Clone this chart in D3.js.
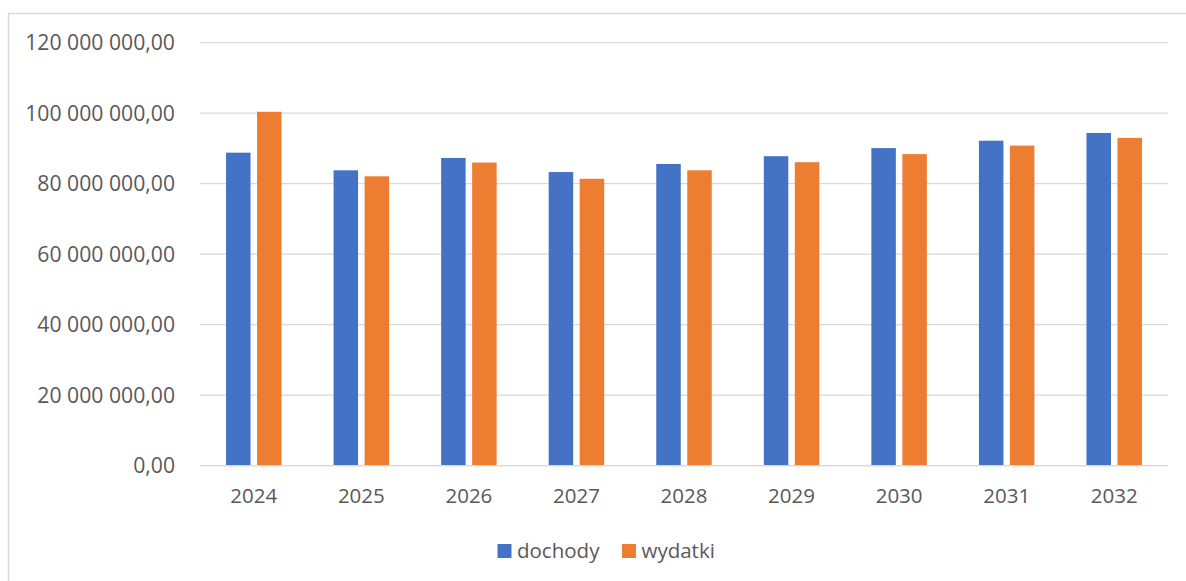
<!DOCTYPE html>
<html>
<head>
<meta charset="utf-8">
<script src="https://cdn.jsdelivr.net/npm/d3@7"></script>
<style>
    body { margin: 0; background: #fff; }
    svg text { font-family: "Open Sans", sans-serif; fill: #595959; }
</style>
</head>
<body>
<svg id="chart" width="1186" height="581"></svg>
<script>
// chart data
const years = ['2024', '2025', '2026', '2027', '2028', '2029', '2030', '2031', '2032'];
const series_names = ['dochody', 'wydatki'];
const dochody = [88.8e6, 83.8e6, 87.3e6, 83.3e6, 85.6e6, 87.8e6, 90.1e6, 92.2e6, 94.4e6];
const wydatki = [100.4e6, 82.1e6, 86.0e6, 81.4e6, 83.8e6, 86.1e6, 88.4e6, 90.8e6, 93.0e6];
const y_ticks = [0, 20e6, 40e6, 60e6, 80e6, 100e6, 120e6];
const colors = ['#4472C4', '#ED7D31'];

const svg = d3.select('#chart');

// outer chart border (right and bottom edges fall outside the picture)
svg.append('rect')
    .attr('x', 8.5).attr('y', 13.5)
    .attr('width', 1190).attr('height', 600)
    .attr('fill', 'none')
    .attr('stroke', '#D9D9D9')
    .attr('stroke-width', 1.5);

const plot_left = 200, plot_right = 1168, plot_top = 42.7, plot_bottom = 465.7;

const xScale = d3.scaleBand()
    .domain(years)
    .range([plot_left, plot_right]);

const yScale = d3.scaleLinear()
    .domain([0, 120e6])
    .range([plot_bottom, plot_top]);

// format like "120 000 000,00"
function fmt(v) {
    const s = Math.round(v).toString().replace(/\B(?=(\d{3})+(?!\d))/g, ' ');
    return s + ',00';
}

// grid lines
svg.append('g')
    .selectAll('line')
    .data(y_ticks)
    .enter()
    .append('line')
    .attr('x1', plot_left).attr('x2', plot_right)
    .attr('y1', (d) => yScale(d)).attr('y2', (d) => yScale(d))
    .attr('stroke', '#D9D9D9')
    .attr('stroke-width', 1.3);

// y labels
svg.append('g')
    .selectAll('text')
    .data(y_ticks)
    .enter()
    .append('text')
    .attr('x', 175)
    .attr('y', (d) => yScale(d) + 7.5)
    .attr('text-anchor', 'end')
    .attr('font-size', 21.2)
    .text((d) => fmt(d));

// bars
const barWidth = 24.5, gap = 6.5;
const series = [dochody, wydatki];
series.forEach((values, si) => {
    svg.append('g')
        .selectAll('rect')
        .data(values)
        .enter()
        .append('rect')
        .attr('x', (d, i) => xScale(years[i]) + xScale.bandwidth() / 2 - gap / 2 - barWidth + si * (barWidth + gap))
        .attr('y', (d) => yScale(d))
        .attr('width', barWidth)
        .attr('height', (d) => yScale(0) - yScale(d))
        .attr('fill', colors[si]);
});

// x axis line
svg.append('line')
    .attr('x1', plot_left).attr('x2', plot_right)
    .attr('y1', yScale(0)).attr('y2', yScale(0))
    .attr('stroke', '#D9D9D9')
    .attr('stroke-width', 1.3);

// x labels
svg.append('g')
    .selectAll('text')
    .data(years)
    .enter()
    .append('text')
    .attr('x', (d) => xScale(d) + xScale.bandwidth() / 2)
    .attr('y', 503)
    .attr('text-anchor', 'middle')
    .attr('font-size', 20.5)
    .text((d) => d);

// legend
const legend_x = [497.5, 622];
series_names.forEach((name, i) => {
    svg.append('rect')
        .attr('x', legend_x[i]).attr('y', 544)
        .attr('width', 14).attr('height', 14)
        .attr('fill', colors[i]);
    svg.append('text')
        .attr('x', legend_x[i] + 19.5)
        .attr('y', 558)
        .attr('font-size', 20.5)
        .text(name);
});
</script>
</body>
</html>
